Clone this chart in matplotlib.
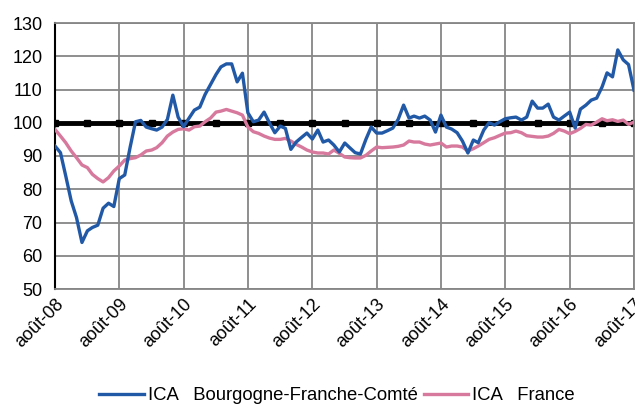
import pandas as pd
import matplotlib.pyplot as plt

plt.rcParams['font.family'] = ['Liberation Sans', 'DejaVu Sans']

# monthly index, août 2008 -> août 2017
months = pd.date_range("2008-08-01", periods=109, freq="MS")

ica_bfc = [
    93, 91, 84, 76.5, 71.5, 64, 67.5, 68.5, 69.2, 74.3, 75.8, 74.8,
    83.2, 84.3, 92.5, 100.3, 100.7, 98.7, 98.2, 97.8, 98.7, 101, 108.3, 101.7,
    98.8, 101.4, 103.8, 104.7, 108.5, 111.5, 114.5, 116.8, 117.7, 117.7, 112.3, 114.9,
    103, 100.3, 100.8, 103.2, 100, 97, 99, 98.3, 92, 94.2, 95.6, 96.9,
    95.1, 97.8, 94.2, 94.8, 93.3, 91.2, 93.9, 92.5, 91, 90.6, 95, 98.7,
    96.9, 96.9, 97.6, 98.4, 101, 105.3, 101.4, 102, 101.4, 102, 100.8, 97.2,
    102.3, 98.7, 98.1, 97, 94.5, 90.9, 94.8, 94, 97.8, 100, 99.3, 100.3,
    101.2, 101.5, 101.7, 100.8, 101.7, 106.5, 104.4, 104.4, 105.6, 101.7, 100.8, 102,
    103.2, 98.4, 104.1, 105.3, 106.8, 107.4, 110.8, 115, 113.8, 121.9, 118.9, 117.5,
    109.8,
]

ica_france = [
    98, 96, 94, 91.5, 89.5, 87.3, 86.5, 84.5, 83.2, 82.2, 83.5, 85.5,
    87, 88.8, 89.2, 89.5, 90.3, 91.5, 91.8, 92.5, 94, 96, 97.2, 98,
    98.2, 97.8, 98.8, 99, 100.3, 101.4, 103.2, 103.5, 104, 103.5, 103, 102.3,
    98.7, 97.3, 96.8, 96, 95.4, 95, 95, 95.3, 94.5, 93.5, 92.7, 91.8,
    91.2, 90.9, 90.9, 90.6, 91.8, 90.8, 89.7, 89.5, 89.4, 89.4, 90.2, 91.5,
    92.7, 92.5, 92.6, 92.7, 92.9, 93.3, 94.5, 94.2, 94.2, 93.6, 93.3, 93.6,
    93.9, 92.7, 93, 93, 92.7, 91.5, 92.2, 93, 94, 95, 95.5, 96.2,
    96.9, 97, 97.5, 97, 96.1, 95.9, 95.7, 95.7, 96, 96.8, 98, 97.5,
    96.7, 97.4, 98.3, 99.5, 99.3, 100.2, 101.2, 100.6, 100.9, 100.4, 100.8, 99.5,
    100.2,
]

base = [100] * len(months)

tick_labels = ["août-08", "août-09", "août-10", "août-11", "août-12",
               "août-13", "août-14", "août-15", "août-16", "août-17"]

fig = plt.figure(figsize=(6.35, 4.04), dpi=100)
ax = fig.add_axes([55 / 635, 1 - 289 / 404, 579 / 635, 266 / 404])

ax.plot(months, base, color="black", lw=3.5, marker="s", ms=5,
        markevery=6, zorder=2)
ax.plot(months, ica_bfc, color="#2159a6", lw=2.4,
        label="ICA   Bourgogne-Franche-Comté", zorder=4)
ax.plot(months, ica_france, color="#d6799c", lw=2.4,
        label="ICA   France", zorder=3)

ax.set_xlim(months[0], months[-1])
ax.set_ylim(50, 130)
ax.set_yticks(range(50, 131, 10))
ax.set_xticks(months[::12])
ax.set_xticklabels(tick_labels, rotation=45, ha="right", va="top",
                   rotation_mode="anchor")
ax.tick_params(axis="both", length=0, labelsize=13, colors="black")
ax.tick_params(axis="y", pad=9)
ax.tick_params(axis="x", pad=5)

ax.grid(True, color="#868686", lw=1.3)
ax.set_axisbelow(True)
for side in ["top", "right", "bottom"]:
    ax.spines[side].set_color("#868686")
    ax.spines[side].set_linewidth(1.3)
ax.spines["left"].set_color("black")
ax.spines["left"].set_linewidth(1.5)

fig.legend(loc="center", bbox_to_anchor=(337 / 635, 1 - 396 / 404), ncol=2,
           frameon=False, fontsize=13.3, handlelength=2.4,
           handletextpad=0.2, columnspacing=0.35)

fig.savefig("out.png", dpi=100)
